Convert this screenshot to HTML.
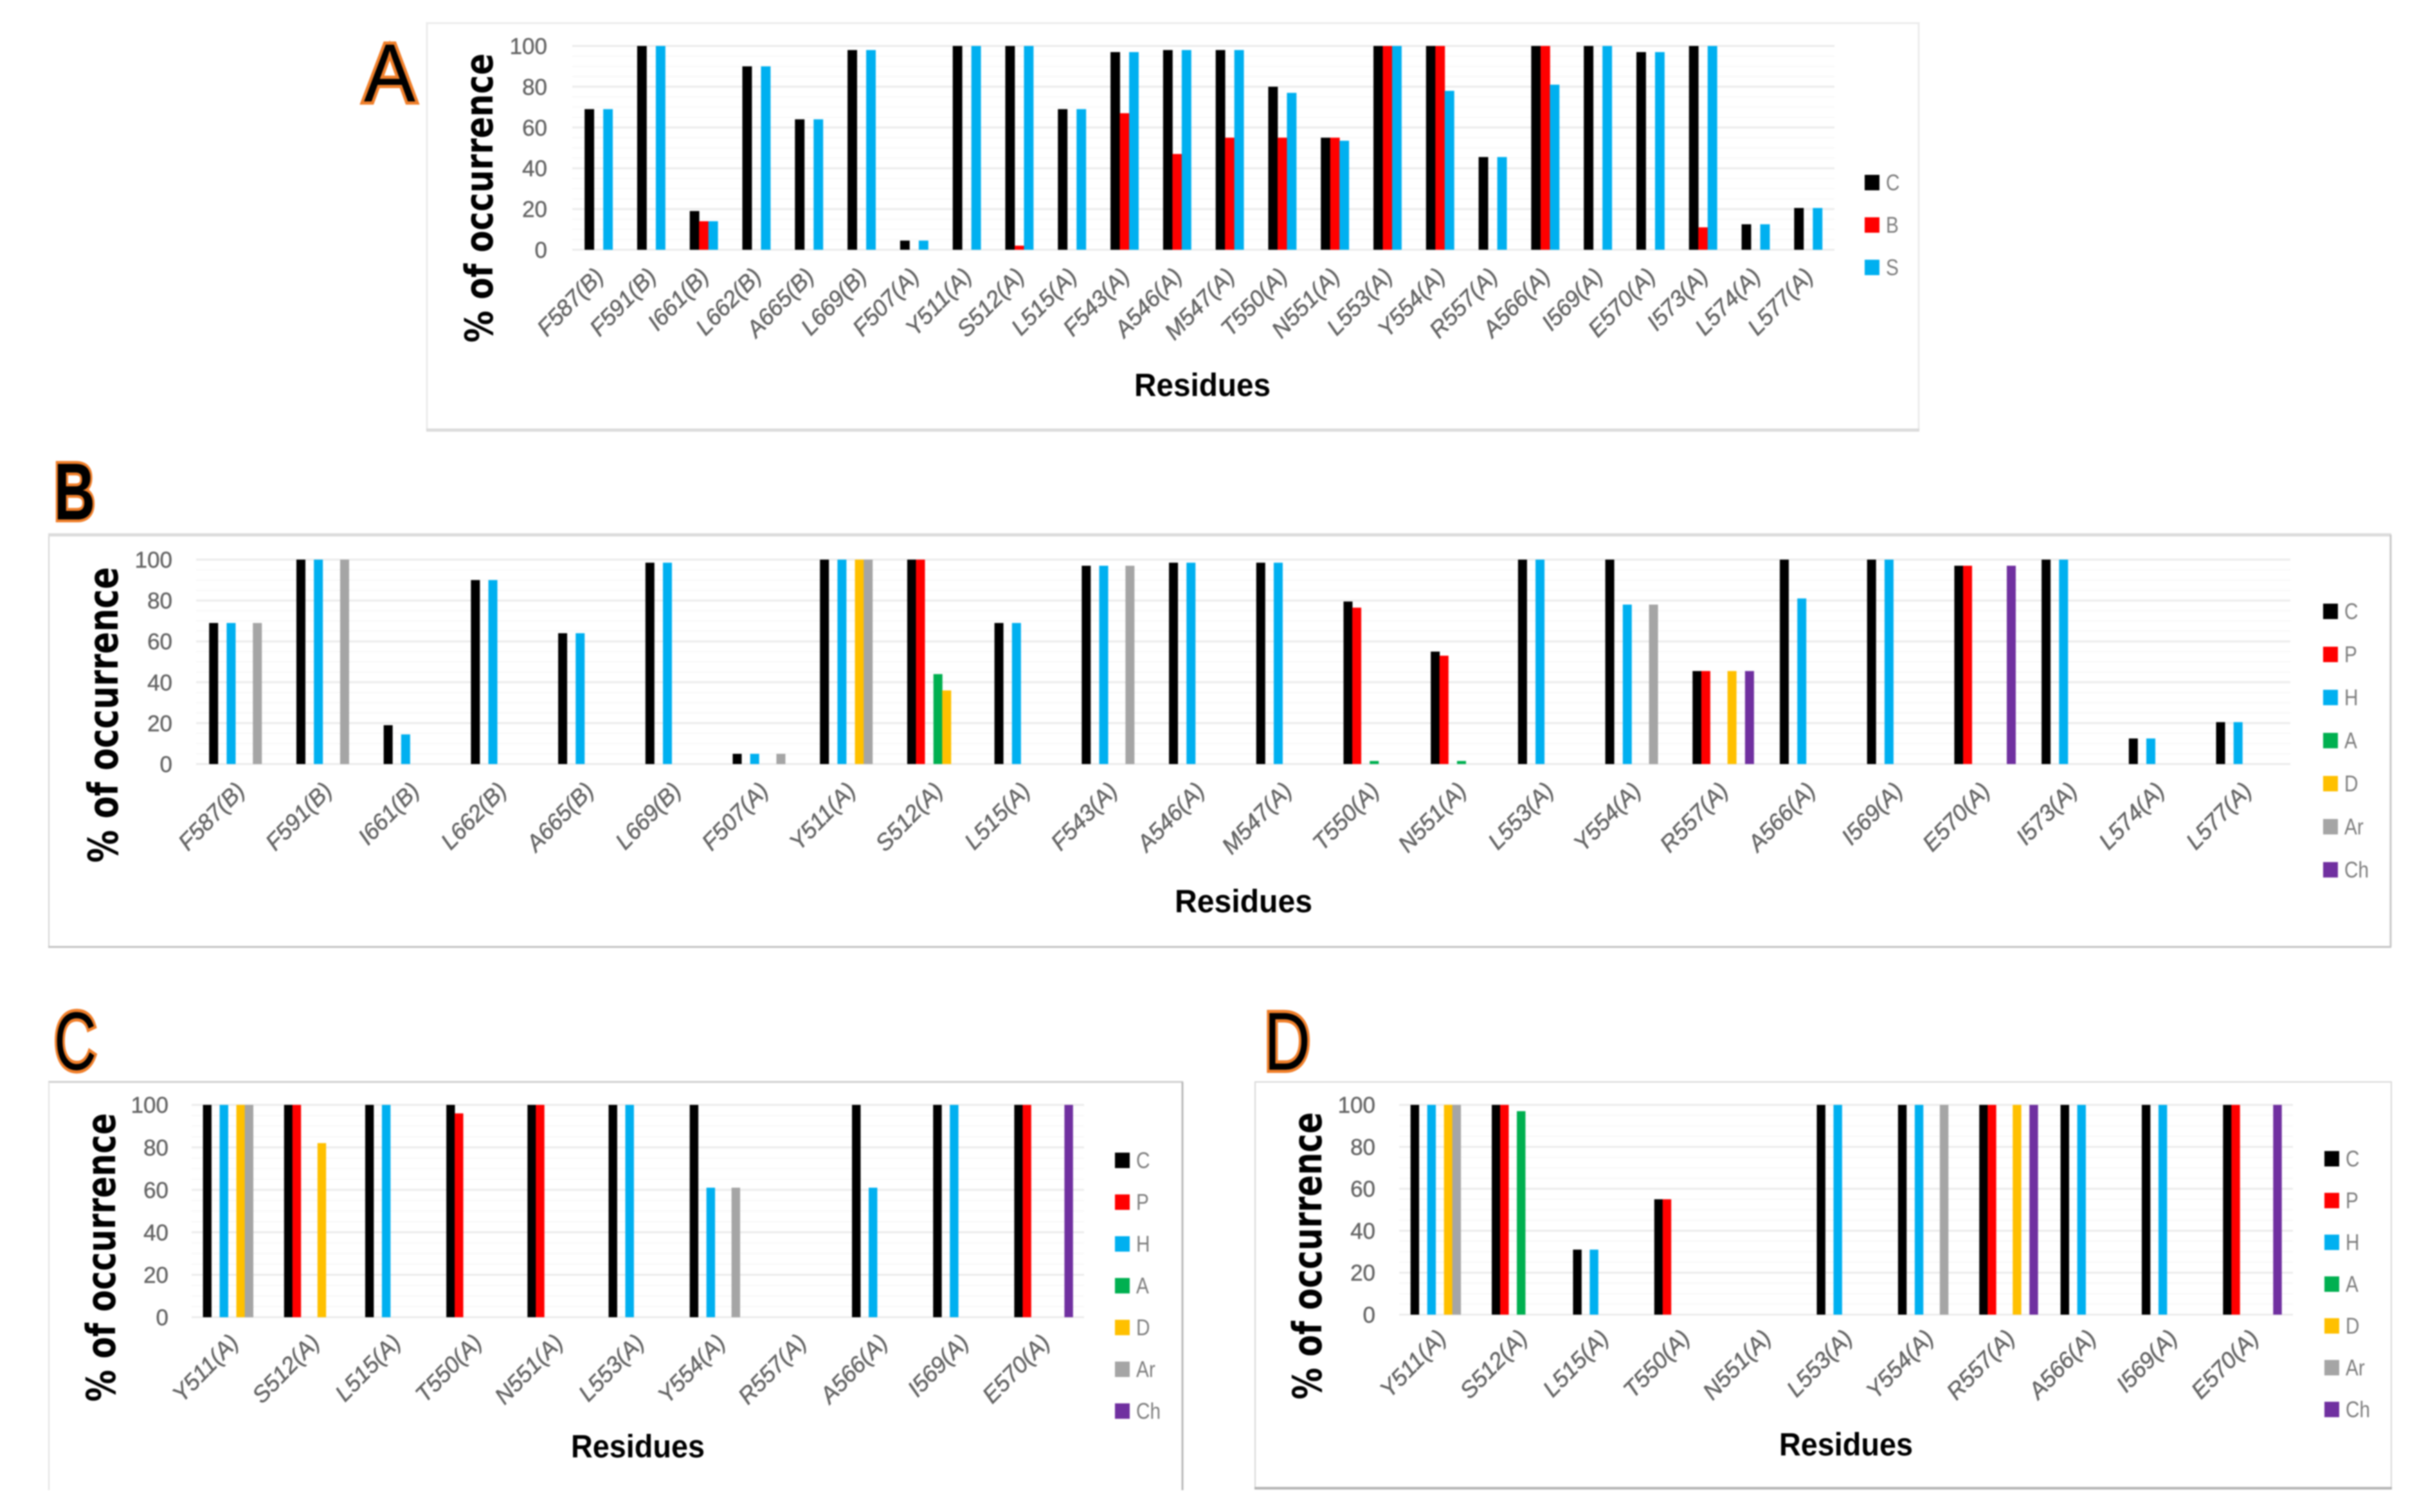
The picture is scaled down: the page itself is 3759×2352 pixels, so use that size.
<!DOCTYPE html>
<html lang="en">
<head>
<meta charset="utf-8">
<title>Percentage of occurrence of residues</title>
<style>
html,body{margin:0;padding:0;background:#fff;}
body{width:3759px;height:2352px;overflow:hidden;}
#figure{display:block;width:3759px;height:2352px;filter:blur(1px);}
text{font-family:"Liberation Sans",sans-serif;}
</style>
</head>
<body>
<svg id="figure" xmlns="http://www.w3.org/2000/svg" width="3759" height="2352" viewBox="0 0 3759 2352">
  <rect x="0" y="0" width="3759" height="2352" fill="#ffffff"/>

  <g>
    <rect x="664" y="36" width="2320" height="632" fill="#fff" stroke="#ececec" stroke-width="3"/>
    <line x1="663" y1="669" x2="2985" y2="669" stroke="#dcdcdc" stroke-width="5"/>
  </g>
  <g>
    <rect x="76" y="832" width="3642" height="641" fill="#fff" stroke="#d4d4d4" stroke-width="2"/>
    <line x1="75" y1="832" x2="3719" y2="832" stroke="#dcdcdc" stroke-width="5"/>
    <line x1="75" y1="1473" x2="3719" y2="1473" stroke="#c4c4c4" stroke-width="3"/>
    <line x1="3718" y1="832" x2="3718" y2="1473" stroke="#c8c8c8" stroke-width="3"/>
  </g>
  <g>
    <line x1="75" y1="1683" x2="1840" y2="1683" stroke="#d0d0d0" stroke-width="3"/>
    <line x1="76" y1="1683" x2="76" y2="2318" stroke="#e2e2e2" stroke-width="2"/>
    <line x1="1839" y1="1683" x2="1839" y2="2318" stroke="#b8b8b8" stroke-width="3"/>
  </g>
  <g>
    <rect x="1952" y="1683" width="1767" height="633" fill="#fff" stroke="#d8d8d8" stroke-width="2"/>
    <line x1="1951" y1="2315" x2="3720" y2="2315" stroke="#b4b4b4" stroke-width="4"/>
  </g>

  <text x="566" y="158" font-size="128" font-weight="400" textLength="80" lengthAdjust="spacingAndGlyphs" fill="#000" stroke="#f07f2a" stroke-width="10" paint-order="stroke">A</text>
  <text x="84" y="808" font-size="125" font-weight="700" textLength="64" lengthAdjust="spacingAndGlyphs" fill="#000" stroke="#f07f2a" stroke-width="9" paint-order="stroke">B</text>
  <text x="84" y="1664" font-size="128" font-weight="400" textLength="66" lengthAdjust="spacingAndGlyphs" fill="#000" stroke="#f07f2a" stroke-width="10" paint-order="stroke">C</text>
  <text x="1966" y="1664" font-size="128" font-weight="400" textLength="72" lengthAdjust="spacingAndGlyphs" fill="#000" stroke="#f07f2a" stroke-width="10" paint-order="stroke">D</text>
</svg>

<script>
// ---- Shared axis data ----
var yTickLabels = [0, 20, 40, 60, 80, 100];
var yMinorTicks = [5, 10, 15, 25, 30, 35, 45, 50, 55, 65, 70, 75, 85, 90, 95];

// ---- Panel A data ----
var panelACategories = ["F587(B)","F591(B)","I661(B)","L662(B)","A665(B)","L669(B)","F507(A)","Y511(A)","S512(A)","L515(A)","F543(A)","A546(A)","M547(A)","T550(A)","N551(A)","L553(A)","Y554(A)","R557(A)","A566(A)","I569(A)","E570(A)","I573(A)","L574(A)","L577(A)"];
var panelASeriesC = [69,100,19,90,64,98,4.5,100,100,69,97,98,98,80,55,100,100,45.5,100,100,97,100,12.5,20.5];
var panelASeriesB = [0,0,14,0,0,0,0,0,2,0,67,47,55,55,55,100,100,0,100,0,0,11,0,0];
var panelASeriesS = [69,100,14,90,64,98,4.5,100,100,69,97,98,98,77,53.5,100,78,45.5,81,100,97,100,12.5,20.5];

// ---- Panel B data ----
var panelBCategories = ["F587(B)","F591(B)","I661(B)","L662(B)","A665(B)","L669(B)","F507(A)","Y511(A)","S512(A)","L515(A)","F543(A)","A546(A)","M547(A)","T550(A)","N551(A)","L553(A)","Y554(A)","R557(A)","A566(A)","I569(A)","E570(A)","I573(A)","L574(A)","L577(A)"];
var panelBSeriesC = [69,100,19,90,64,98.5,5,100,100,69,97,98.5,98.5,79.5,55,100,100,45.5,100,100,97,100,12.5,20.5];
var panelBSeriesP = [0,0,0,0,0,0,0,0,100,0,0,0,0,76.5,53,0,0,45.5,0,0,97,0,0,0];
var panelBSeriesH = [69,100,14.5,90,64,98.5,5,100,0,69,97,98.5,98.5,0,0,100,78,0,81,100,0,100,12.5,20.5];
var panelBSeriesA = [0,0,0,0,0,0,0,0,44,0,0,0,0,1.5,1.5,0,0,0,0,0,0,0,0,0];
var panelBSeriesD = [0,0,0,0,0,0,0,100,36,0,0,0,0,0,0,0,0,45.5,0,0,0,0,0,0];
var panelBSeriesAr = [69,100,0,0,0,0,5,100,0,0,97,0,0,0,0,0,78,0,0,0,0,0,0,0];
var panelBSeriesCh = [0,0,0,0,0,0,0,0,0,0,0,0,0,0,0,0,0,45.5,0,0,97,0,0,0];

// ---- Panel C data ----
var panelCCategories = ["Y511(A)","S512(A)","L515(A)","T550(A)","N551(A)","L553(A)","Y554(A)","R557(A)","A566(A)","I569(A)","E570(A)"];
var panelCSeriesC = [100,100,100,100,100,100,100,0,100,100,100];
var panelCSeriesP = [0,100,0,96,100,0,0,0,0,0,100];
var panelCSeriesH = [100,0,100,0,0,100,61,0,61,100,0];
var panelCSeriesA = [0,0,0,0,0,0,0,0,0,0,0];
var panelCSeriesD = [100,82,0,0,0,0,0,0,0,0,0];
var panelCSeriesAr = [100,0,0,0,0,0,61,0,0,0,0];
var panelCSeriesCh = [0,0,0,0,0,0,0,0,0,0,100];

// ---- Panel D data ----
var panelDCategories = ["Y511(A)","S512(A)","L515(A)","T550(A)","N551(A)","L553(A)","Y554(A)","R557(A)","A566(A)","I569(A)","E570(A)"];
var panelDSeriesC = [100,100,31,55,0,100,100,100,100,100,100];
var panelDSeriesP = [0,100,0,55,0,0,0,100,0,0,100];
var panelDSeriesH = [100,0,31,0,0,100,100,0,100,100,0];
var panelDSeriesA = [0,97,0,0,0,0,0,0,0,0,0];
var panelDSeriesD = [100,0,0,0,0,0,0,100,0,0,0];
var panelDSeriesAr = [100,0,0,0,0,0,100,0,0,0,0];
var panelDSeriesCh = [0,0,0,0,0,0,0,100,0,0,100];

// ---- Series names ----
var threeSeriesNames = ["C","B","S"];
var sevenSeriesNames = ["C","P","H","A","D","Ar","Ch"];

var colorBySeries = {C:"#000000",B:"#ff0000",P:"#ff0000",S:"#00b0f0",H:"#00b0f0",A:"#00b050",D:"#ffc000",Ar:"#a5a5a5",Ch:"#7030a0"};
var svg = document.getElementById("figure");
var NS = "http://www.w3.org/2000/svg";

function make(tag, attrs, parent){
  var el = document.createElementNS(NS, tag);
  for (var k in attrs) el.setAttribute(k, attrs[k]);
  parent.appendChild(el);
  return el;
}

function drawPanel(p){
  var root = make("g", {}, svg);
  
  

  function yScale(v){ return p.y0 + (p.y100 - p.y0) * v / 100; }
  function xBand(i){ return p.left + (p.right - p.left) * (i + 0.5) / p.categories.length; }

  // minor gridlines
  yMinorTicks.forEach(function(t){
    var g = make("line", {x1:p.left, x2:p.right, y1:yScale(t), y2:yScale(t), stroke:"#f8f8f8", "stroke-width":2}, root);
    
    
  });

  // major gridlines and y tick labels
  yTickLabels.forEach(function(t){
    var g = make("line", {x1:p.left, x2:p.right, y1:yScale(t), y2:yScale(t), stroke:"#ececec", "stroke-width":3}, root);
    
    
    var lab = make("text", {x:p.yTickRight, y:yScale(t)+12.5, "text-anchor":"end", "font-size":35, fill:"#666666", stroke:"#666666", "stroke-width":0.5}, root);
    lab.textContent = t;
    
    
  });

  // bars
  var n = p.seriesNames.length;
  p.seriesNames.forEach(function(name, s){
    var values = p.seriesValues[s];
    values.forEach(function(v, i){
      if (!(v > 0)) return;
      var x = xBand(i) - n * p.barWidth / 2 + s * p.barWidth;
      var top = yScale(v);
      var r = make("rect", {x:x, y:top, width:p.barWidth + 0.4, height:p.y0 - top, fill:colorBySeries[name]}, root);
      
      
    });
  });

  // x tick labels
  p.categories.forEach(function(c, i){
    var lx = xBand(i) + p.labelDx, ly = p.y0 + p.labelDy;
    var t = make("text", {x:lx, y:ly, "text-anchor":"end", "font-size":36, "font-style":"italic", fill:"#666666", stroke:"#666666", "stroke-width":0.6, transform:"rotate(-46 " + lx + " " + ly + ")"}, root);
    t.textContent = c;
    
    
  });

  // y axis title
  var yt = make("text", {x:0, y:0, "text-anchor":"middle", "font-size":p.yTitleSize, "font-weight":700, fill:"#000", textLength:p.yTitleLen, lengthAdjust:"spacingAndGlyphs", transform:"translate(" + p.yTitleX + " " + p.yTitleY + ") rotate(-90)"}, root);
  yt.style.fontFamily = '"DejaVu Sans",sans-serif';
  yt.textContent = "% of occurrence";
  
  

  // x axis title
  var xt = make("text", {x:p.xTitleX, y:p.xTitleY, "text-anchor":"middle", "font-size":50, "font-weight":700, fill:"#000", textLength:p.xTitleLen, lengthAdjust:"spacingAndGlyphs"}, root);
  xt.textContent = "Residues";
  
  

  // legend
  p.seriesNames.forEach(function(name, s){
    var cy = p.legendY + s * p.legendStep;
    var entry = make("g", {}, root);
    
    
    make("rect", {x:p.legendX, y:cy - 12, width:23, height:24, fill:colorBySeries[name]}, entry);
    var lt = make("text", {x:p.legendX + 33, y:cy + 12, "font-size":35, fill:"#7f7f7f"}, entry);
    lt.textContent = name;
    lt.setAttribute('textLength', lt.getComputedTextLength() * 0.85);
    lt.setAttribute('lengthAdjust', 'spacingAndGlyphs');
  });
}

drawPanel({id:"a", categories:panelACategories, seriesNames:threeSeriesNames,
  seriesValues:[panelASeriesC,panelASeriesB,panelASeriesS],
  left:890, right:2853, y0:388.5, y100:71.5, barWidth:14.5, yTickRight:851, labelDx:10, labelDy:43,
  yTitleX:766, yTitleY:308, yTitleLen:450, yTitleSize:60, xTitleX:1870, xTitleY:616, xTitleLen:212,
  legendX:2900, legendY:284, legendStep:66});

drawPanel({id:"b", categories:panelBCategories, seriesNames:sevenSeriesNames,
  seriesValues:[panelBSeriesC,panelBSeriesP,panelBSeriesH,panelBSeriesA,panelBSeriesD,panelBSeriesAr,panelBSeriesCh],
  left:305, right:3562, y0:1188.5, y100:870.5, barWidth:13.6, yTickRight:268, labelDx:10, labelDy:43,
  yTitleX:183, yTitleY:1112, yTitleLen:460, yTitleSize:64, xTitleX:1934, xTitleY:1419, xTitleLen:214,
  legendX:3613, legendY:951, legendStep:67});

drawPanel({id:"c", categories:panelCCategories, seriesNames:sevenSeriesNames,
  seriesValues:[panelCSeriesC,panelCSeriesP,panelCSeriesH,panelCSeriesA,panelCSeriesD,panelCSeriesAr,panelCSeriesCh],
  left:298, right:1686, y0:2049, y100:1718.7, barWidth:13, yTickRight:262, labelDx:12, labelDy:41,
  yTitleX:179, yTitleY:1956, yTitleLen:449, yTitleSize:62, xTitleX:992, xTitleY:2267, xTitleLen:208,
  legendX:1734, legendY:1805, legendStep:65});

drawPanel({id:"d", categories:panelDCategories, seriesNames:sevenSeriesNames,
  seriesValues:[panelDSeriesC,panelDSeriesP,panelDSeriesH,panelDSeriesA,panelDSeriesD,panelDSeriesAr,panelDSeriesCh],
  left:2176, right:3566, y0:2045, y100:1718.7, barWidth:13, yTickRight:2139, labelDx:12, labelDy:38,
  yTitleX:2055, yTitleY:1953.5, yTitleLen:447, yTitleSize:62, xTitleX:2871, xTitleY:2264, xTitleLen:208,
  legendX:3615, legendY:1802.5, legendStep:65});
</script>
</body>
</html>
